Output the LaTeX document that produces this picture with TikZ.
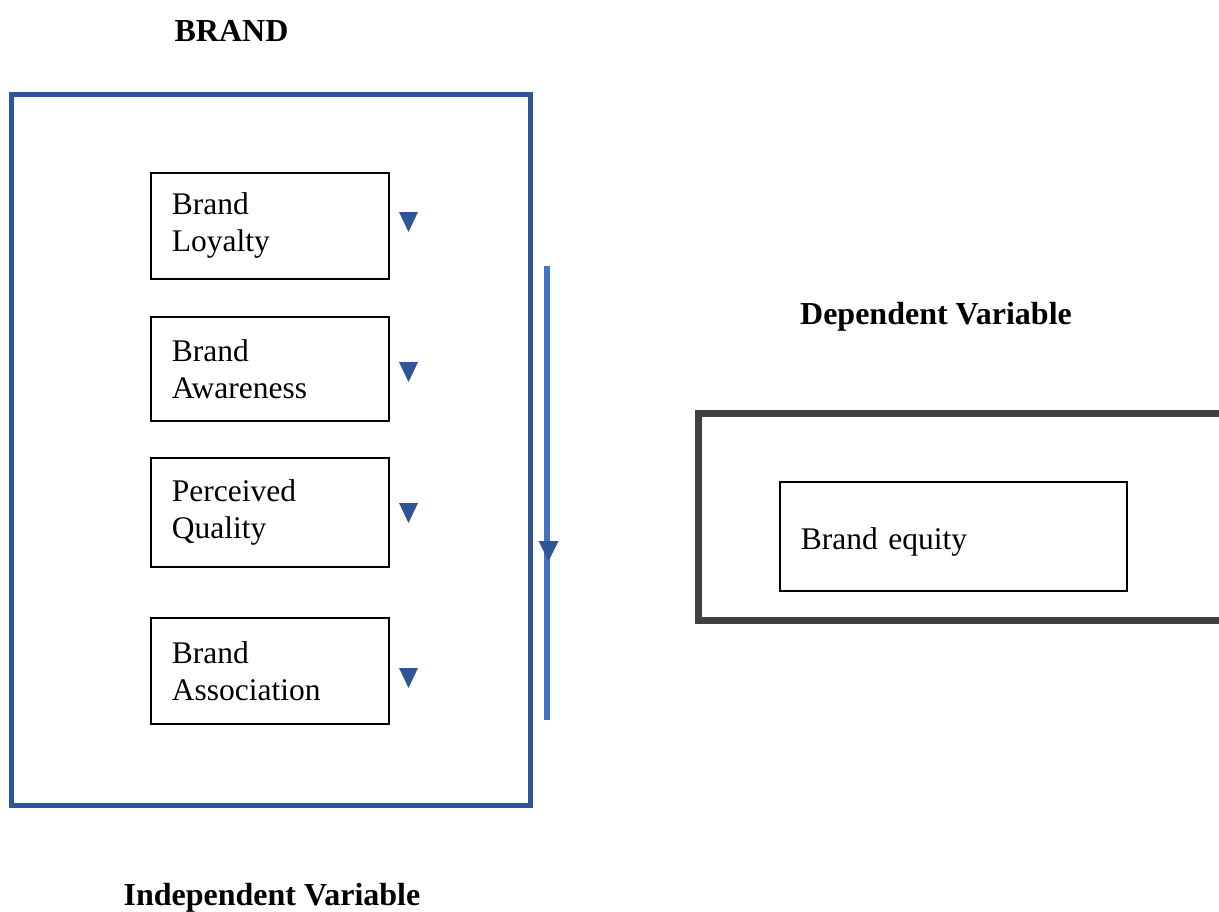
\documentclass[tikz,border=0pt]{standalone}
\usepackage{fontspec}
\setmainfont{Liberation Serif}
\usetikzlibrary{positioning}
\definecolor{framebl}{RGB}{47,85,151}
\definecolor{linebl}{RGB}{68,114,196}
\definecolor{darkgr}{RGB}{64,64,64}
\tikzset{
  factor/.style={draw,line width=1.6,anchor=north west,minimum width=238,
    text width=196,inner xsep=21,align=left,font=\fontsize{31.5}{37}\selectfont},
  heading/.style={font=\fontsize{32}{37}\selectfont\bfseries}
}
\begin{document}
\begin{tikzpicture}[x=1pt,y=-1pt]
\useasboundingbox (0,0) rectangle (1219,911);
\draw[framebl,line width=5] (11,94) rectangle (530,805);
\node[heading] (brand) at (231.5,31) {BRAND};
\node[heading] (indep) at (272,898) {Independent Variable};
\node[heading] (dep) at (936,317) {Dependent Variable};

\node[factor,minimum height=106] (loyal) at (150,172) {Brand\\Loyalty};
\node[factor,minimum height=104] (aware) at (150,316) {Brand\\Awareness};
\node[factor,minimum height=109] (qual) at (150,457) {Perceived\\Quality};
\node[factor,minimum height=106] (assoc) at (150,617) {Brand\\Association};
\foreach \y in {212,362,503,668}
  \fill[framebl] (399,\y) -- (418,\y) -- (408.5,\y+20) -- cycle;

\coordinate (top) at (547,266);
\coordinate (bot) at (547,720);
\draw[linebl,line width=6.5] (top) -- (bot);
\fill[framebl] (538.5,541) -- (558.5,541) -- (548.5,561) -- cycle;

\draw[darkgr,line width=7] (698.5,413) rectangle (1224,620);
\node[factor,minimum width=347,text width=305,minimum height=109,
  text depth=0,text height=27] (equity) at (779,481) {Brand equity};
\end{tikzpicture}
\end{document}
